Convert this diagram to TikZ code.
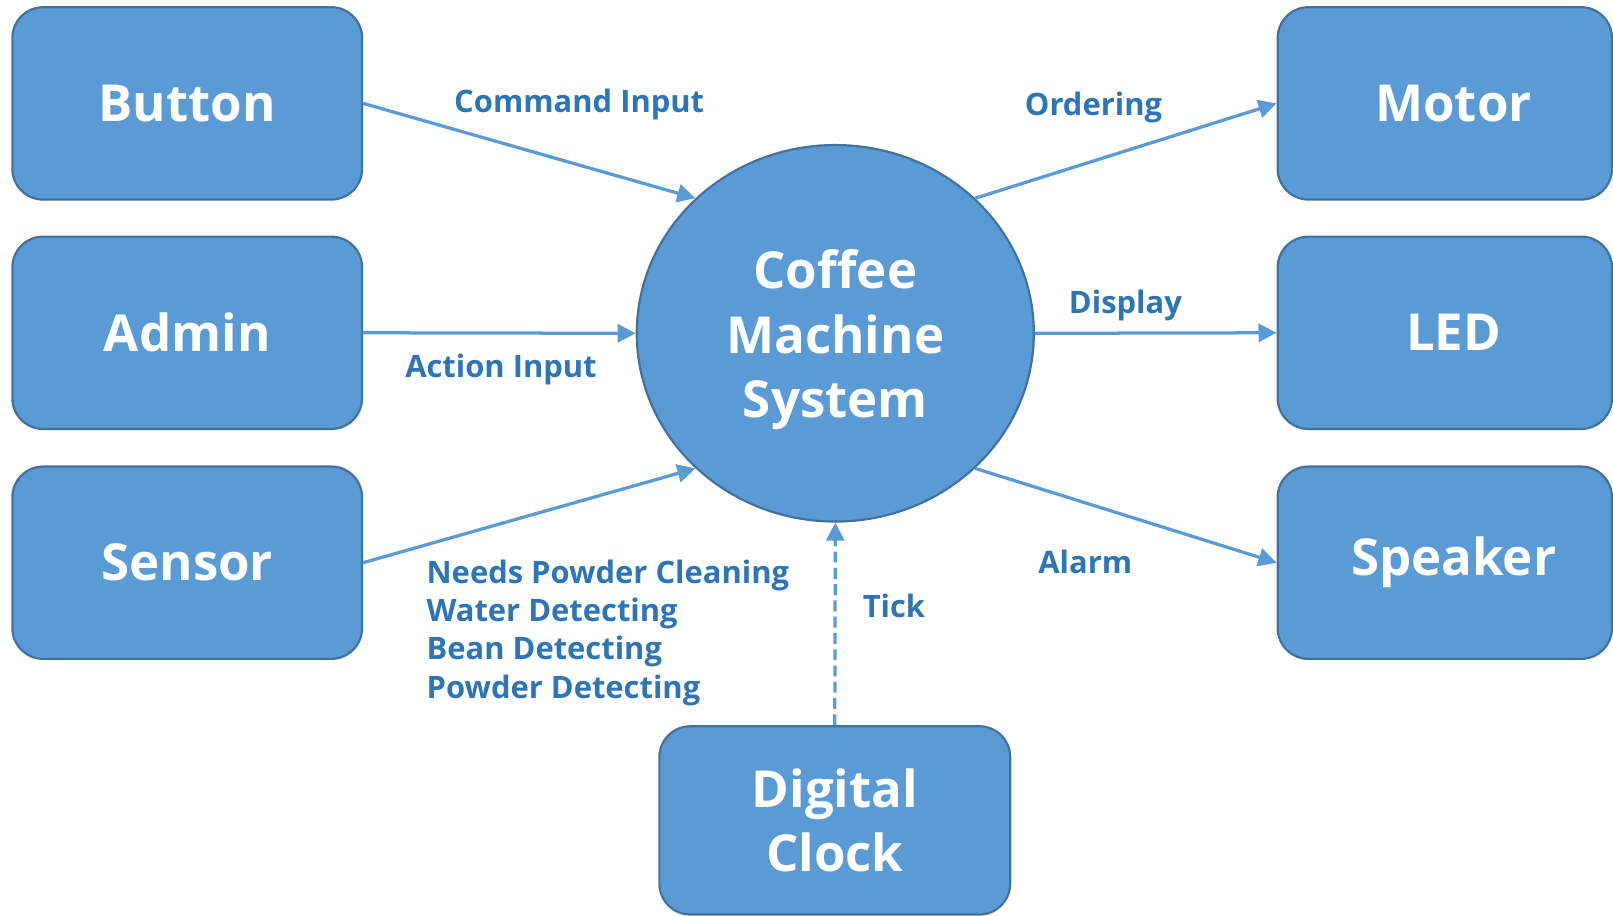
\documentclass[tikz,border=0pt]{standalone}
\usepackage{fontspec}
\setmainfont{Open Sans}
\usetikzlibrary{shapes.geometric, arrows.meta, positioning}
\definecolor{boxblue}{RGB}{91,155,213}
\definecolor{edgeblue}{RGB}{65,113,156}
\definecolor{labelblue}{RGB}{46,117,182}
\tikzset{
  entity/.style={rectangle, rounded corners=0.3cm, draw=edgeblue, line width=0.6pt,
                 fill=boxblue, minimum width=3.4cm, minimum height=1.87cm, align=center,
                 text=white, font=\fontsize{14.1}{17.6}\selectfont\bfseries},
  system/.style={ellipse, draw=edgeblue, line width=0.6pt, fill=boxblue,
                 minimum width=3.86cm, minimum height=3.66cm, inner sep=0pt, align=center,
                 text=white, font=\fontsize{14.1}{17.8}\selectfont\bfseries},
  flow/.style={-{Triangle[length=5pt,width=5pt]}, line width=0.9pt, color=boxblue},
  flowlabel/.style={inner sep=0pt, align=left, text=labelblue,
                    font=\fontsize{8.55}{10.6}\selectfont\bfseries},
}

\begin{document}
\begin{tikzpicture}
        \useasboundingbox (0,0) rectangle (15.68,8.904);
        % inputs
        \node[entity] (button) at (1.82,7.899) {Button};
        \node[entity] (admin)  at (1.82,5.669) {Admin};
        \node[entity] (sensor) at (1.82,3.434) {Sensor};
        % outputs
        \node[entity, minimum width=3.25cm] (motor)   at (14.045,7.899) {\hspace*{0.17cm}Motor};
        \node[entity, minimum width=3.25cm] (led)     at (14.045,5.669) {\hspace*{0.17cm}LED};
        \node[entity, minimum width=3.25cm] (speaker) at (14.045,3.434) {\hspace*{0.17cm}Speaker};
        % centre and clock
        \node[system] (sys) at (8.12,5.664) {\\[-0.12cm]Coffee\\Machine\\System};
        \node[entity, minimum width=3.41cm, minimum height=1.83cm] (clock) at (8.115,0.929) {Digital\\Clock};

        \draw[flow] (button.east) -- (sys.136);
        \draw[flow] (admin.east)  -- (sys.west);
        \draw[flow] (sensor.east) -- (sys.-136);
        \draw[flow] (sys.44)   -- (motor.west);
        \draw[flow] (sys.east) -- (led.west);
        \draw[flow] (sys.-44)  -- (speaker.west);
        \draw[flow, dash pattern=on 3pt off 1.5pt] (clock.north) -- (sys.south);

        \node[flowlabel] (lcommand) at (5.63,7.884) {Command Input};
        \node[flowlabel] (laction)  at (4.87,5.314) {Action Input};
        \node[flowlabel, anchor=west] (lsensor) at (4.14,2.754)
          {Needs Powder Cleaning\\Water Detecting\\Bean Detecting\\Powder Detecting};
        \node[flowlabel] (lorder)   at (10.63,7.864) {Ordering};
        \node[flowlabel] (ldisplay) at (10.94,5.934) {Display};
        \node[flowlabel] (lalarm)   at (10.55,3.444) {Alarm};
        \node[flowlabel] (ltick)    at (8.69,3.014)  {Tick};
      \end{tikzpicture}
\end{document}
